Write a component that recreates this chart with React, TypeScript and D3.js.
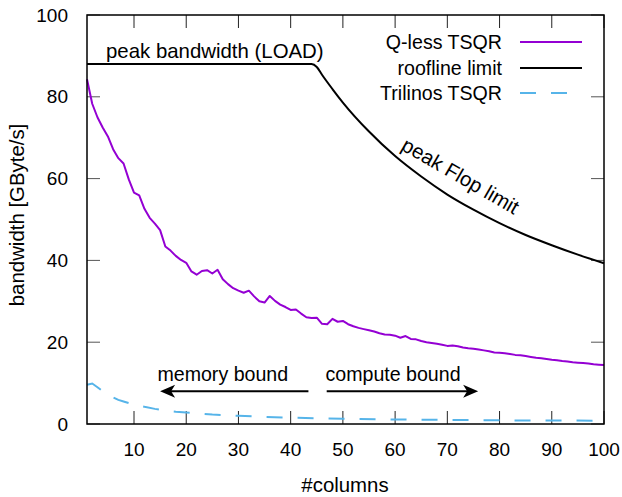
import React from "react";
import * as d3 from "d3";

const qlessCols = d3.range(1, 101);
const qlessVals = [
  84.3, 78.3, 75.0, 72.5, 70.3, 67.2, 65.0, 63.7, 59.8, 56.6,
  55.9, 52.6, 50.4, 49.0, 47.4, 43.4, 42.4, 41.1, 40.1, 39.4,
  37.3, 36.5, 37.4, 37.6, 36.8, 37.7, 35.4, 34.2, 33.2, 32.6,
  32.1, 32.6, 31.2, 30.0, 29.7, 31.3, 30.1, 29.2, 28.6, 27.9,
  28.0, 27.0, 26.1, 25.9, 26.0, 24.5, 24.4, 25.7, 25.0, 25.2,
  24.4, 23.9, 23.5, 23.2, 22.9, 22.6, 22.2, 21.9, 21.8, 21.6,
  21.1, 21.5, 20.8, 20.7, 20.3, 20.0, 19.8, 19.6, 19.4, 19.1,
  19.2, 19.0, 18.7, 18.5, 18.4, 18.2, 18.0, 17.8, 17.5, 17.4,
  17.3, 17.1, 16.9, 16.8, 16.6, 16.4, 16.2, 16.1, 15.9, 15.7,
  15.6, 15.4, 15.3, 15.1, 15.0, 14.9, 14.8, 14.6, 14.5, 14.4,
];

const roofCols = [1, 44, 45, 46, 48, 50, 55, 60, 65, 70, 75, 80, 85, 90, 95, 100];
const roofVals = [88, 88, 87.3, 85.4, 81.9, 78.6, 71.5, 65.5, 60.5, 56.1, 52.4, 49.1, 46.2, 43.7, 41.4, 39.3];

const triCols = [1, 2, 3, 4, 5, 6, 7, 8, 9, 10, 12, 14, 16, 18, 20, 25, 30, 35, 40, 45, 50, 60, 70, 80, 90, 100];
const triVals = [9.6, 9.9, 9.0, 8.0, 7.2, 6.5, 5.9, 5.5, 5.1, 4.8, 4.2, 3.7, 3.3, 3.0, 2.8, 2.3, 2.0, 1.75, 1.55, 1.4, 1.3, 1.1, 1.0, 0.9, 0.85, 0.8];

const xTicks = [10, 20, 30, 40, 50, 60, 70, 80, 90, 100];
const yTicks = [0, 20, 40, 60, 80, 100];

const legendLabels = ["Q-less TSQR", "roofline limit", "Trilinos TSQR"];

const PURPLE = "#9400D3";
const BLUE = "#56B4E9";
const FONT = "'Liberation Sans', Arial, sans-serif";

export default function App() {
  const left = 87, right = 604, top = 15, bottom = 424;
  const x = d3.scaleLinear().domain([1, 100]).range([left, right]);
  const y = d3.scaleLinear().domain([0, 100]).range([bottom, top]);

  const line = d3.line<[number, number]>().x((d) => x(d[0])).y((d) => y(d[1]));
  const roofLine = d3
    .line<[number, number]>()
    .x((d) => x(d[0]))
    .y((d) => y(d[1]))
    .curve(d3.curveMonotoneX);

  const qData: [number, number][] = qlessCols.map((c, i) => [c, qlessVals[i]]);
  const rData: [number, number][] = roofCols.map((c, i) => [c, roofVals[i]]);
  const tData: [number, number][] = triCols.map((c, i) => [c, triVals[i]]);

  const tickLen = 13;
  const fs = 19;
  const fsText = 19.6;
  const fsBig = 20.4;

  const arrowHead = (tx: number, ty: number, dir: number) => {
    const L = 15, W = 6.5, N = 11;
    return `M${tx},${ty} L${tx + dir * L},${ty - W} L${tx + dir * N},${ty} L${tx + dir * L},${ty + W} Z`;
  };

  const memA = { x1: x(43.4), x2: x(15.0), yy: y(8) };
  const cmpA = { x1: x(46.9), x2: x(75.9), yy: y(8) };

  const legendY = [42, 68, 93];
  const legendColors = [PURPLE, "#000", BLUE];
  const legendDash = [null, null, "16,15"];

  return (
    <svg
      width={622}
      height={497}
      style={{ position: "absolute", left: 0, top: 0, background: "#fff" }}
      fontFamily={FONT}
    >
      <rect x={0} y={0} width={622} height={497} fill="#fff" />
      {xTicks.map((t) => (
        <g key={"xt" + t}>
          <line x1={x(t)} x2={x(t)} y1={bottom} y2={bottom - tickLen} stroke="#222" strokeWidth={1} />
          <line x1={x(t)} x2={x(t)} y1={top} y2={top + tickLen} stroke="#222" strokeWidth={1} />
          <text x={x(t)} y={456} textAnchor="middle" fontSize={fs} fill="#000">
            {t}
          </text>
        </g>
      ))}
      {yTicks.map((t) => (
        <g key={"yt" + t}>
          <line x1={left} x2={left + tickLen} y1={y(t)} y2={y(t)} stroke="#555" strokeWidth={1} />
          <line x1={right} x2={right - tickLen} y1={y(t)} y2={y(t)} stroke="#555" strokeWidth={1} />
          <text x={68} y={y(t)} textAnchor="end" dominantBaseline="central" fontSize={fs} fill="#000">
            {t}
          </text>
        </g>
      ))}

      <path d={line(tData) || ""} fill="none" stroke={BLUE} strokeWidth={2} strokeDasharray="16,15" />
      <path d={line(qData) || ""} fill="none" stroke={PURPLE} strokeWidth={2} strokeLinejoin="round" />
      <path d={roofLine(rData) || ""} fill="none" stroke="#000" strokeWidth={2} />

      <rect x={left} y={top} width={right - left} height={bottom - top} fill="none" stroke="#000" strokeWidth={1.5} />

      <text x={106} y={58} fontSize={fsBig} fill="#000">peak bandwidth (LOAD)</text>
      <text
        x={0}
        y={0}
        fontSize={fsBig}
        fill="#000"
        textAnchor="middle"
        transform={`translate(457,182) rotate(30)`}
      >
        peak Flop limit
      </text>

      <text x={x(27)} y={381} fontSize={fsText} textAnchor="middle" fill="#000">memory bound</text>
      <text x={x(59.6)} y={381} fontSize={fsText} textAnchor="middle" fill="#000">compute bound</text>
      <line x1={memA.x1} x2={memA.x2 + 10} y1={memA.yy} y2={memA.yy} stroke="#000" strokeWidth={2} />
      <path d={arrowHead(memA.x2, memA.yy, 1)} fill="#000" />
      <line x1={cmpA.x1} x2={cmpA.x2 - 10} y1={cmpA.yy} y2={cmpA.yy} stroke="#000" strokeWidth={2} />
      <path d={arrowHead(cmpA.x2, cmpA.yy, -1)} fill="#000" />

      {legendLabels.map((lab, i) => (
        <g key={lab}>
          <text x={502} y={legendY[i]} textAnchor="end" dominantBaseline="central" fontSize={fsText} fill="#000">
            {lab}
          </text>
          <line
            x1={520}
            x2={582}
            y1={legendY[i]}
            y2={legendY[i]}
            stroke={legendColors[i]}
            strokeWidth={2}
            strokeDasharray={legendDash[i] || undefined}
          />
        </g>
      ))}

      <text x={345} y={492} textAnchor="middle" fontSize={fsBig} fill="#000">#columns</text>
      <text
        x={0}
        y={0}
        textAnchor="middle"
        fontSize={fsBig}
        fill="#000"
        transform={`translate(24,215) rotate(-90)`}
      >
        bandwidth [GByte/s]
      </text>
    </svg>
  );
}
